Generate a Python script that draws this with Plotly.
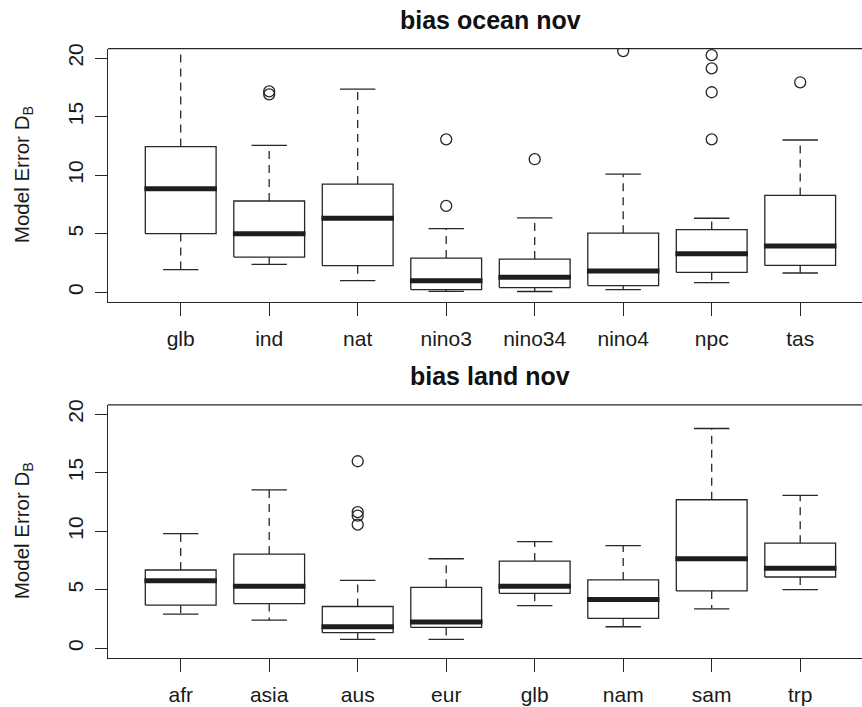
import plotly.graph_objects as go

# ---------------- data ----------------
ocean_regions = ["glb", "ind", "nat", "nino3", "nino34", "nino4", "npc", "tas"]
ocean_lower = [1.93, 2.38, 0.99, 0.08, 0.06, 0.23, 0.82, 1.64]
ocean_q1 = [5.01, 3.00, 2.27, 0.23, 0.40, 0.57, 1.70, 2.29]
ocean_median = [8.84, 4.99, 6.32, 0.99, 1.27, 1.81, 3.29, 3.94]
ocean_q3 = [12.44, 7.79, 9.24, 2.92, 2.83, 5.04, 5.35, 8.27]
ocean_upper = [21.5, 12.55, 17.34, 5.44, 6.35, 10.08, 6.32, 13.00]
ocean_outliers = [[], [17.15, 16.9], [], [13.06, 7.37], [11.36], [20.6],
                  [20.25, 19.12, 17.08, 13.06], [17.93]]

land_regions = ["afr", "asia", "aus", "eur", "glb", "nam", "sam", "trp"]
land_lower = [2.92, 2.41, 0.76, 0.76, 3.65, 1.84, 3.37, 5.01]
land_q1 = [3.68, 3.82, 1.33, 1.78, 4.70, 2.55, 4.90, 6.09]
land_median = [5.78, 5.30, 1.84, 2.24, 5.30, 4.16, 7.65, 6.83]
land_q3 = [6.69, 8.05, 3.57, 5.21, 7.45, 5.84, 12.69, 8.98]
land_upper = [9.80, 13.54, 5.81, 7.65, 9.12, 8.78, 18.78, 13.06]
land_outliers = [[], [], [15.98, 11.64, 11.33, 10.57], [], [], [], [], []]

y_ticks = [0, 5, 10, 15, 20]
titles = ["bias ocean nov", "bias land nov"]
y_title = "Model Error D<sub>B</sub>"

# ---------------- style ----------------
FONT = "Liberation Sans, Arial, Helvetica, sans-serif"
LINE = "#262626"
BOXW = 0.8     # box width (R boxwex)
CAPW = 0.4     # staple width
W, H = 862, 707

fig = go.Figure()


def add_panel(xa, ya, lower, q1, med, q3, upper, outl):
    n = len(med)
    bx, by, wx, wy, cx, cy, mx, my, ox, oy = [], [], [], [], [], [], [], [], [], []
    for i in range(n):
        p = i + 1
        l, r = p - BOXW / 2, p + BOXW / 2
        bx += [l, r, r, l, l, None]
        by += [q1[i], q1[i], q3[i], q3[i], q1[i], None]
        wx += [p, p, None, p, p, None]
        wy += [q3[i], upper[i], None, q1[i], lower[i], None]
        cx += [p - CAPW / 2, p + CAPW / 2, None, p - CAPW / 2, p + CAPW / 2, None]
        cy += [upper[i], upper[i], None, lower[i], lower[i], None]
        mx += [l - 0.01, r + 0.01, None]
        my += [med[i], med[i], None]
        for v in outl[i]:
            ox.append(p)
            oy.append(v)
    common = dict(xaxis=xa, yaxis=ya, showlegend=False, hoverinfo="skip")
    fig.add_trace(go.Scatter(x=wx, y=wy, mode="lines",
                             line=dict(color=LINE, width=1.3, dash="8px,6px"), **common))
    fig.add_trace(go.Scatter(x=cx, y=cy, mode="lines",
                             line=dict(color=LINE, width=1.3), **common))
    fig.add_trace(go.Scatter(x=bx, y=by, mode="lines", fill="toself", fillcolor="white",
                             line=dict(color=LINE, width=1.3), **common))
    fig.add_trace(go.Scatter(x=mx, y=my, mode="lines",
                             line=dict(color="#1e1e1e", width=5), **common))
    fig.add_trace(go.Scatter(x=ox, y=oy, mode="markers", cliponaxis=True,
                             marker=dict(symbol="circle-open", size=11,
                                         color=LINE, line=dict(width=1.3)), **common))


add_panel("x", "y", ocean_lower, ocean_q1, ocean_median, ocean_q3, ocean_upper, ocean_outliers)
add_panel("x2", "y2", land_lower, land_q1, land_median, land_q3, land_upper, land_outliers)

# pixel layout (from top of page)
x_left_px = 108.0
x_unit_px = 88.5
x_first_px = 180.7
panels = [(44.0, 298.7), (402.7, 657.3)]

x_range = [1 - (x_first_px - x_left_px) / x_unit_px, 1 + (W - x_first_px) / x_unit_px]
x_dom = [x_left_px / W, 1.0]


def ydom(top, bot):
    return [1 - bot / H, 1 - top / H]


xaxis_common = dict(
    range=x_range, domain=x_dom, showgrid=False, zeroline=False,
    showline=True, linecolor=LINE, linewidth=1.3,
    ticks="outside", ticklen=13, tickwidth=1.3, tickcolor=LINE,
    tickvals=list(range(1, 9)), ticklabelstandoff=5,
    tickfont=dict(family=FONT, size=21, color="#1a1a1a"), fixedrange=True,
)
yaxis_common = dict(
    range=[-0.8, 20.8], showgrid=False, zeroline=False,
    showline=True, linecolor=LINE, linewidth=1.3,
    ticks="outside", ticklen=12, tickwidth=1.3, tickcolor=LINE,
    tickvals=y_ticks, ticktext=[str(v) for v in y_ticks], tickangle=-90,
    ticklabelstandoff=3,
    tickfont=dict(family=FONT, size=21, color="#1a1a1a"), fixedrange=True,
)

fig.update_layout(
    width=W, height=H, margin=dict(l=0, r=0, t=0, b=0),
    paper_bgcolor="white", plot_bgcolor="white",
    xaxis=dict(xaxis_common, anchor="y", ticktext=ocean_regions),
    yaxis=dict(yaxis_common, anchor="x", domain=ydom(*panels[0])),
    xaxis2=dict(xaxis_common, anchor="y2", ticktext=land_regions),
    yaxis2=dict(yaxis_common, anchor="x2", domain=ydom(*panels[1])),
)

# top frame lines
for xr, yr in [("x domain", "y domain"), ("x2 domain", "y2 domain")]:
    fig.add_shape(type="line", xref=xr, yref=yr, x0=0, x1=1, y0=1, y1=1,
                  line=dict(color=LINE, width=1.3), layer="above")

# titles and axis titles
plot_center_x = (x_left_px + (x_first_px + 7.82 * x_unit_px)) / 2
for k, (top, bot) in enumerate(panels):
    fig.add_annotation(text="<b>" + titles[k] + "</b>", xref="paper", yref="paper",
                       x=plot_center_x / W, y=1 - (top - 29) / H,
                       xanchor="center", yanchor="middle", showarrow=False,
                       font=dict(family=FONT, size=25, color="#111"))
    fig.add_annotation(text=y_title, xref="paper", yref="paper",
                       x=23 / W, y=1 - ((top + bot) / 2) / H, textangle=-90,
                       xanchor="center", yanchor="middle", showarrow=False,
                       font=dict(family=FONT, size=20.5, color="#1a1a1a"))

fig.write_html("out.html", config={"displayModeBar": False},
               post_script="document.body.style.margin='0';document.body.style.overflow='hidden';")
